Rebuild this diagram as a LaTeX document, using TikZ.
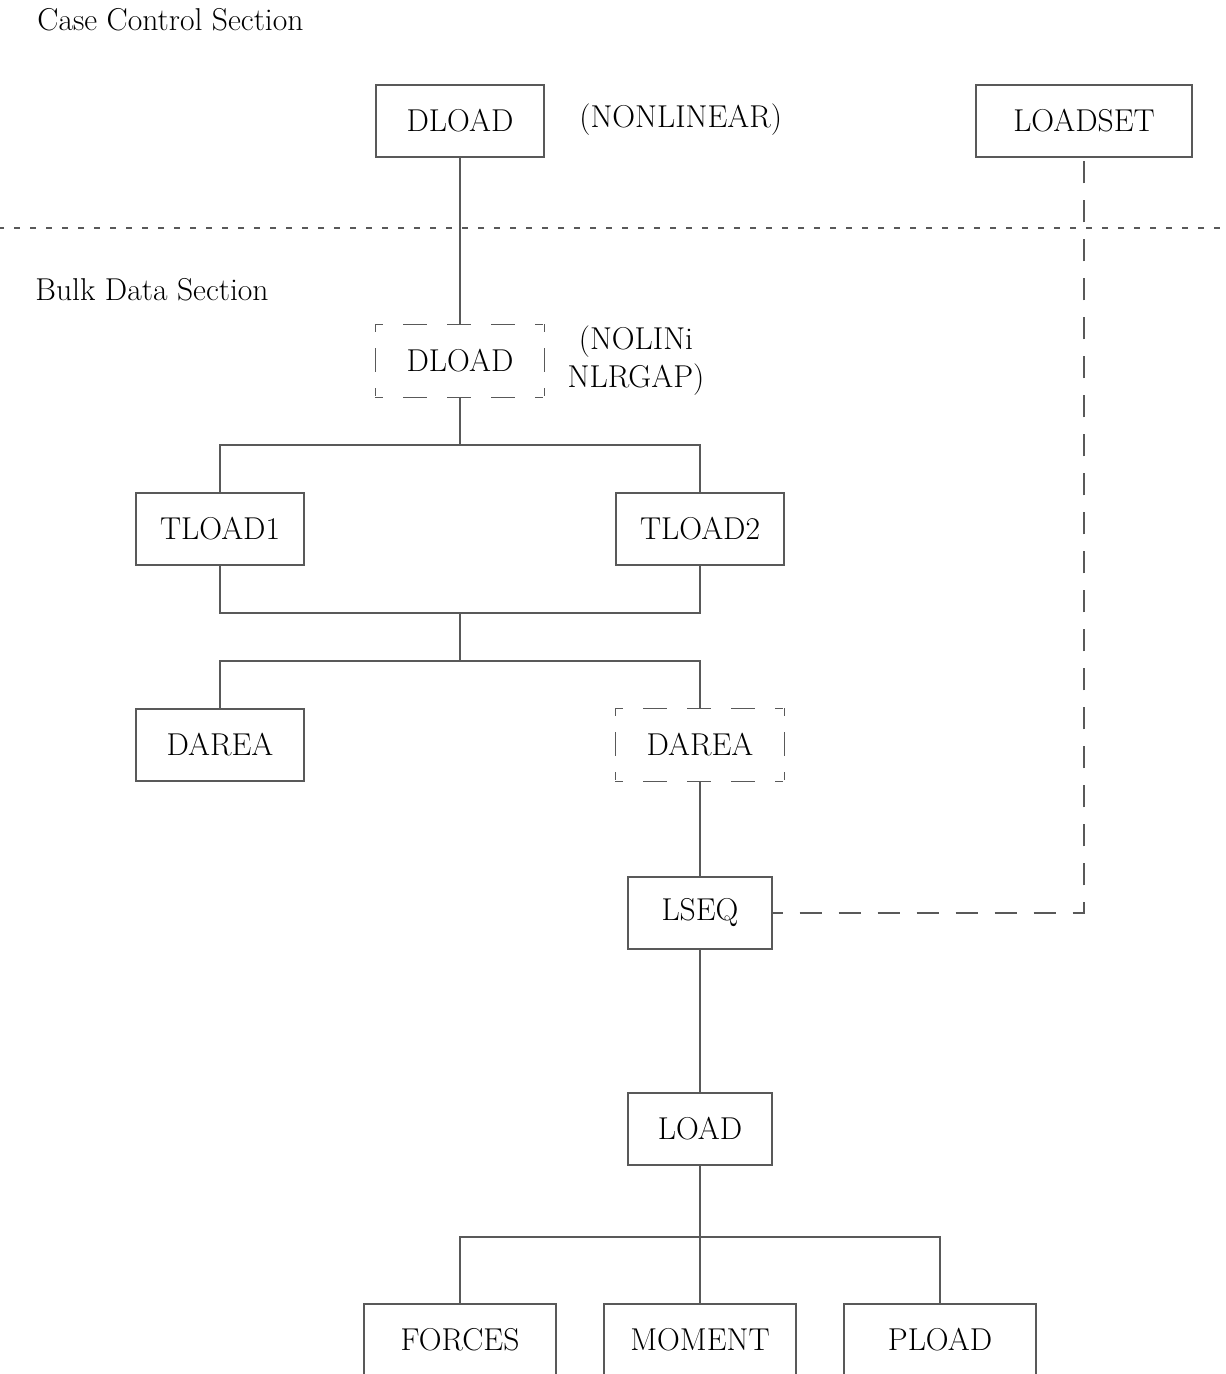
\documentclass[tikz,border=0pt]{standalone}
\begin{document}
\begin{tikzpicture}[x=0.5pt,y=-0.5pt,
  lbl/.style={font=\fontsize{15.8}{19}\selectfont, inner sep=0pt},
  card/.style={draw=black!65, line width=0.6pt, font=\fontsize{15.8}{17}\selectfont,
    minimum width=84pt, minimum height=36pt, inner sep=0pt},
  dcard/.style={card, draw=none},
  hdash/.style={draw=black!65, line width=0.6pt, dash pattern=on 4pt off 10pt on 12pt off 10pt on 12pt off 10pt on 12pt off 10pt on 4pt off 200pt},
  vdash/.style={draw=black!65, line width=0.6pt, dash pattern=on 4pt off 8pt on 12pt off 8pt on 4pt off 200pt},
  link/.style={draw=black!65, line width=0.6pt},
  dlink/.style={link, dash pattern=on 11pt off 8.5pt, dash phase=6pt},
  sep/.style={draw=black!65, line width=0.6pt, dash pattern=on 3pt off 5pt, dash phase=1pt}]
\useasboundingbox (0,0) rectangle (1225,1374);
\clip (0,0) rectangle (1225,1374);

% section labels
\node[lbl, anchor=west] (cc) at (37,20) {Case Control Section};
\node[lbl, anchor=west] (bd) at (35,290) {Bulk Data Section};
\coordinate (sl) at (0,228);
\coordinate (sr) at (1225,228);
\path[sep] (sl) -- (sr);

% case control
\node[card] (dl1) at (460,121) {DLOAD};
\node[lbl, anchor=west] (nl) at (579,120) {(NONLINEAR)};
\node[card, minimum width=108pt] (ls) at (1084,121) {LOADSET};

% bulk data
\node[dcard] (dl2) at (460,361) {DLOAD};
\path[hdash] (dl2.north west) -- (dl2.north east);
\path[hdash] (dl2.south west) -- (dl2.south east);
\path[vdash] (dl2.north west) -- (dl2.south west);
\path[vdash] (dl2.north east) -- (dl2.south east);
\node[lbl, align=center] (nol) at (636,361) {(NOLINi\\NLRGAP)};
\node[card] (t1) at (220,529) {TLOAD1};
\node[card] (t2) at (700,529) {TLOAD2};
\node[card] (a1) at (220,745) {DAREA};
\node[dcard] (a2) at (700,745) {DAREA};
\path[hdash] (a2.north west) -- (a2.north east);
\path[hdash] (a2.south west) -- (a2.south east);
\path[vdash] (a2.north west) -- (a2.south west);
\path[vdash] (a2.north east) -- (a2.south east);
\node[card, minimum width=72pt] (lseq) at (700,913) {LSEQ};
\node[card, minimum width=72pt] (load) at (700,1129) {LOAD};
\node[card, minimum width=96pt] (fo) at (460,1340) {FORCES};
\node[card, minimum width=96pt] (mo) at (700,1340) {MOMENT};
\node[card, minimum width=96pt] (pl) at (940,1340) {PLOAD};

\coordinate (j1) at (460,445);
\coordinate (j2) at (460,613);
\coordinate (j3) at (460,661);
\coordinate (j4) at (700,1237);

\path[link] (dl1) -- (dl2);
\path[link] (dl2) -- (j1);
\path[link] (t1) |- (j1) -| (t2);
\path[link] (t1) |- (j2) -| (t2);
\path[link] (j2) -- (j3);
\path[link] (a1) |- (j3) -| (a2);
\path[link] (a2) -- (lseq);
\path[link] (lseq) -- (load);
\path[link] (load) -- (j4);
\path[link] (fo) |- (j4) -| (pl);
\path[link] (j4) -- (mo);
\path[dlink] (lseq) -| (ls);
\end{tikzpicture}
\end{document}
